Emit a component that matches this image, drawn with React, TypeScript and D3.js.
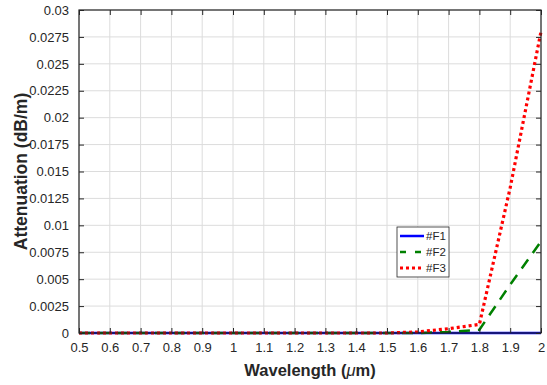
import React, { useRef, useEffect } from "react";
import * as d3 from "d3";

const wavelengths = [0.5, 0.6, 0.7, 0.8, 0.9, 1.0, 1.1, 1.2, 1.3, 1.4, 1.5, 1.6, 1.7, 1.8, 1.9, 2.0];
const f1 = [0, 0, 0, 0, 0, 0, 0, 0, 0, 0, 0, 0, 0, 0, 0, 0];
const f2 = [0, 0, 0, 0, 0, 0, 0, 0, 0, 0, 0, 0, 0.0001, 0.0003, 0.0045, 0.0085];
const f3 = [0, 0, 0, 0, 0, 0, 0, 0, 0, 0, 0, 0.0001, 0.0004, 0.0008, 0.0135, 0.028];
const xTicks = [0.5, 0.6, 0.7, 0.8, 0.9, 1, 1.1, 1.2, 1.3, 1.4, 1.5, 1.6, 1.7, 1.8, 1.9, 2];
const yTicks = [0, 0.0025, 0.005, 0.0075, 0.01, 0.0125, 0.015, 0.0175, 0.02, 0.0225, 0.025, 0.0275, 0.03];

const seriesList = [
  { name: "#F1", values: f1, color: "#0000ff", dash: "none", width: 2.5 },
  { name: "#F2", values: f2, color: "#008000", dash: "11,8", width: 2.5 },
  { name: "#F3", values: f3, color: "#ff0000", dash: "3,3", width: 3.2 },
];

const width = 547;
const height = 385;
const margin = { top: 10, right: 6, bottom: 52, left: 79 };

const App: React.FC = () => {
  const svgRef = useRef<SVGSVGElement>(null);

  useEffect(() => {
    if (!svgRef.current) return;
    d3.select(svgRef.current).selectAll("*").remove();

    const svg = d3.select(svgRef.current).attr("width", width).attr("height", height);
    const innerWidth = width - margin.left - margin.right;
    const innerHeight = height - margin.top - margin.bottom;
    const font = "Arial, 'Liberation Sans', sans-serif";

    const x = d3.scaleLinear().domain([0.5, 2]).range([0, innerWidth]);
    const y = d3.scaleLinear().domain([0, 0.03]).range([innerHeight, 0]);

    const g = svg.append("g").attr("transform", `translate(${margin.left},${margin.top})`);

    // grid
    g.append("g")
      .selectAll("line")
      .data(xTicks)
      .enter()
      .append("line")
      .attr("x1", (d) => x(d))
      .attr("x2", (d) => x(d))
      .attr("y1", 0)
      .attr("y2", innerHeight)
      .attr("stroke", "#dcdcdc")
      .attr("stroke-width", 1);
    g.append("g")
      .selectAll("line")
      .data(yTicks)
      .enter()
      .append("line")
      .attr("x1", 0)
      .attr("x2", innerWidth)
      .attr("y1", (d) => y(d))
      .attr("y2", (d) => y(d))
      .attr("stroke", "#dcdcdc")
      .attr("stroke-width", 1);

    // lines
    const line = d3
      .line<number>()
      .x((d, i) => x(wavelengths[i]))
      .y((d) => y(d));

    seriesList.forEach((s) => {
      g.append("path")
        .datum(s.values)
        .attr("fill", "none")
        .attr("stroke", s.color)
        .attr("stroke-width", s.width)
        .attr("stroke-dasharray", s.dash)
        .attr("d", line);
    });

    // axes
    const fmt = (d: d3.NumberValue) => String(+d);
    const styleAxis = (sel: d3.Selection<SVGGElement, unknown, null, undefined>) => {
      sel.select(".domain").remove();
      sel.selectAll(".tick line").attr("stroke", "#262626");
      sel.selectAll(".tick text")
        .attr("fill", "#262626")
        .style("font-family", font)
        .style("font-size", "13px");
    };

    g.append("g")
      .attr("transform", `translate(0,${innerHeight})`)
      .call(d3.axisBottom(x).tickValues(xTicks).tickSize(-5).tickPadding(10).tickFormat(fmt))
      .call(styleAxis);
    g.append("g")
      .call(d3.axisTop(x).tickValues(xTicks).tickSize(-5).tickFormat(() => ""))
      .call(styleAxis);
    g.append("g")
      .call(d3.axisLeft(y).tickValues(yTicks).tickSize(-5).tickPadding(10).tickFormat(fmt))
      .call(styleAxis);
    g.append("g")
      .attr("transform", `translate(${innerWidth},0)`)
      .call(d3.axisRight(y).tickValues(yTicks).tickSize(-5).tickFormat(() => ""))
      .call(styleAxis);

    g.append("rect")
      .attr("width", innerWidth)
      .attr("height", innerHeight)
      .attr("fill", "none")
      .attr("stroke", "#262626")
      .attr("stroke-width", 1.2);

    // axis labels
    const xl = svg
      .append("text")
      .attr("x", margin.left + innerWidth / 2)
      .attr("y", 376)
      .attr("text-anchor", "middle")
      .attr("fill", "#262626")
      .style("font-family", font)
      .style("font-size", "16.5px")
      .style("font-weight", "bold");
    xl.append("tspan").text("Wavelength (");
    xl.append("tspan").style("font-style", "italic").style("font-weight", "normal").text("\u03bc");
    xl.append("tspan").text("m)");

    svg
      .append("text")
      .attr("transform", "rotate(-90)")
      .attr("x", -(margin.top + innerHeight / 2))
      .attr("y", 27)
      .attr("text-anchor", "middle")
      .attr("fill", "#262626")
      .style("font-family", font)
      .style("font-size", "17.5px")
      .style("font-weight", "bold")
      .text("Attenuation (dB/m)");

    // legend
    const legend = svg.append("g").attr("transform", "translate(397,227)");
    legend
      .append("rect")
      .attr("width", 52)
      .attr("height", 50)
      .attr("fill", "#ffffff")
      .attr("stroke", "#262626")
      .attr("stroke-width", 0.8);
    seriesList.forEach((s, i) => {
      const row = legend.append("g").attr("transform", `translate(0,${9 + i * 16})`);
      row
        .append("line")
        .attr("x1", 3)
        .attr("x2", 27)
        .attr("y1", 0)
        .attr("y2", 0)
        .attr("stroke", s.color)
        .attr("stroke-width", s.width)
        .attr("stroke-dasharray", s.name === "#F2" ? "6,9" : s.dash);
      row
        .append("text")
        .attr("x", 29)
        .attr("y", 4)
        .attr("fill", "#262626")
        .style("font-family", font)
        .style("font-size", "11.5px")
        .text(s.name);
    });
  }, []);

  return (
    <svg
      ref={svgRef}
      style={{ position: "absolute", left: 0, top: 0, display: "block", background: "#fff" }}
    />
  );
};

export default App;
